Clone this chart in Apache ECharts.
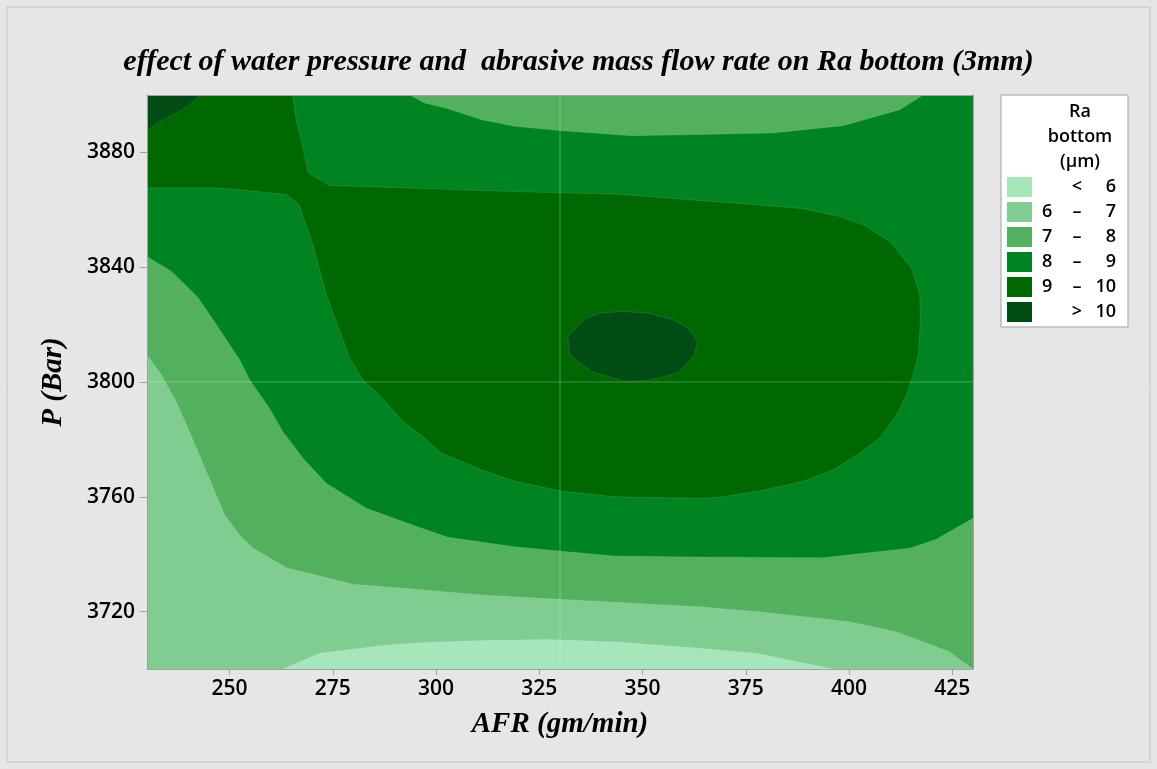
<!DOCTYPE html>
<html><head><meta charset="utf-8">
<script src="https://cdn.jsdelivr.net/npm/echarts@6/dist/echarts.min.js"></script>
<style>html,body{margin:0;padding:0;background:#e6e6e6}#c{width:1157px;height:769px}</style>
</head><body><div id="c"></div>
<script>
// ---- data ----
const AFR_RANGE = [230, 430];
const P_RANGE = [3700, 3900];
const xTicks = [250, 275, 300, 325, 350, 375, 400, 425];
const yTicks = [3720, 3760, 3800, 3840, 3880];
const classLow = [null, 6, 7, 8, 9, 10];
const classHigh = [6, 7, 8, 9, 10, null];
const refAFR = 330;
const refP = 3800;
// contour Ra = 6 (bottom bump)
const contour6 = [[262.9,3700],[271.8,3705.5],[288,3708.4],[297.2,3709.2],[311,3709.9],[327.1,3710.3],[343.2,3709.5],[363.8,3707.2],[377.6,3705.5],[396.1,3700]];
// contour Ra = 7
const contour7 = [[230,3809.5],[233.5,3802.4],[237.1,3793.1],[240.3,3782.7],[244.4,3768.7],[248.8,3753.7],[252.4,3746.7],[255.7,3742.1],[263.8,3735.3],[279.9,3729.5],[297.2,3727.5],[311,3725.8],[329.8,3724.3],[363.8,3721.7],[377.6,3720],[400.1,3716.5],[411.4,3713],[417.9,3709.5],[424.3,3706],[430,3700]];
// contour Ra = 8 (main)
const contour8 = [[230,3843.7],[235.9,3838.6],[242.3,3829.5],[246.8,3820],[252.4,3807.8],[254.9,3800.7],[259.7,3790.8],[262.9,3782.7],[267.8,3773.4],[273.4,3764.7],[283.1,3756],[296,3749.3],[302.9,3745.9],[319,3742.6],[329.8,3741.1],[343.2,3739.4],[363.8,3739],[393.7,3738.8],[403.4,3740.3],[414.7,3742.1],[421.1,3745.2],[430,3752.5]];
// contour Ra = 8 (top pocket below 8)
const contour8Top = [[293.6,3900],[297.2,3897.2],[302.9,3895.2],[311,3891.4],[319,3889.1],[329.8,3887.6],[347.3,3885.8],[363.8,3886.2],[381.6,3886.8],[398.5,3889.3],[412.3,3894.9],[417.9,3900]];
// contour Ra = 9
const contour9 = [[230,3867.6],[246.8,3867.6],[252.4,3867],[263.8,3865.3],[266.8,3861.8],[270.2,3847.8],[273.4,3830.4],[276.7,3817.7],[279.1,3808.4],[282.3,3800.7],[286.3,3795.5],[292,3786.2],[297.2,3780.5],[301.3,3775.2],[311,3769.3],[319,3765.5],[329.8,3762.1],[343.2,3760],[363.8,3759.5],[369.5,3760],[379.2,3762.4],[388.8,3765.3],[396.1,3769.3],[401.8,3774.6],[407.4,3780.4],[411.5,3788.5],[413.9,3795.5],[415.5,3802.4],[416.7,3809.5],[417.3,3821.1],[417.1,3830.4],[415.1,3839.7],[409.8,3849],[403.4,3854.8],[397.7,3857.7],[388.8,3860.4],[377.6,3861.8],[361.4,3863.5],[343.2,3865.5],[329.8,3865.9],[311,3866.7],[297.2,3867.4],[274.2,3868.5],[269,3872.8],[267.8,3881.5],[266.2,3890.8],[265.2,3900]];
// contour Ra = 10 (top-left corner)
const contour10a = [[230,3887.6],[233.1,3890.8],[238.7,3894.9],[243.2,3900]];
// contour Ra = 10 (central island)
const contour10b = [[331.9,3815.9],[336.4,3822.3],[339.6,3824],[344.9,3824.6],[351.3,3824],[357.4,3821.7],[361,3818.8],[363.3,3814.2],[362.6,3809.5],[358.6,3803.1],[351.3,3800.5],[345.7,3800.2],[337.6,3803.7],[332.3,3809.5]];

// ---- styles ----
const classColors = ['#a7e5bb', '#80cc91', '#53b05e', '#008422', '#006800', '#004c15'];
const serif = '"Liberation Serif","Times New Roman",serif';
const sans = '"Open Sans","Noto Sans",sans-serif';

const classNames = classLow.map((lo, i) => {
  const hi = classHigh[i];
  if (lo === null) return '< ' + hi;
  if (hi === null) return '> ' + lo;
  return lo + ' – ' + hi;
});

const [x0, x1] = AFR_RANGE, [y0, y1] = P_RANGE;
const layers = [
  {cls: 0, pts: [[x0, y0], [x1, y0], [x1, y1], [x0, y1]]},
  {cls: 1, pts: [[x0, y0], ...contour6, [x1, y0], [x1, y1], [x0, y1]]},
  {cls: 2, pts: [...contour7, [x1, y1], [x0, y1]]},
  {cls: 3, pts: [...contour8, [x1, y1], [x0, y1]]},
  {cls: 2, pts: contour8Top},
  {cls: 4, pts: [...contour9, [x0, y1]]},
  {cls: 5, pts: [...contour10a, [x0, y1]]},
  {cls: 5, pts: contour10b}
].map((l, i) => Object.assign(l, {order: i}));

const series = classNames.map((name, c) => {
  const mine = layers.filter(l => l.cls === c);
  return {
    type: 'custom', name, coordinateSystem: 'cartesian2d', clip: true, silent: true,
    itemStyle: {color: classColors[c]},
    data: mine.map(l => l.pts[0]),
    renderItem: (params, api) => {
      const l = mine[params.dataIndex];
      return {
        type: 'polygon', z2: l.order,
        shape: {points: l.pts.map(p => api.coord(p))},
        style: {fill: classColors[c], stroke: 'rgba(255,255,255,0.16)', lineWidth: 0.7}
      };
    }
  };
});

series.push({
  type: 'custom', coordinateSystem: 'cartesian2d', silent: true, z: 3,
  data: [[refAFR, refP]],
  renderItem: (params, api) => {
    const a = api.coord([refAFR, y0]), b = api.coord([refAFR, y1]);
    const c = api.coord([x0, refP]), d = api.coord([x1, refP]);
    const st = {stroke: 'rgba(255,255,255,0.28)', lineWidth: 1};
    return {type: 'group', children: [
      {type: 'line', shape: {x1: a[0], y1: a[1], x2: b[0], y2: b[1]}, style: st},
      {type: 'line', shape: {x1: c[0], y1: c[1], x2: d[0], y2: d[1]}, style: st}
    ]};
  }
});

const axisGrey = '#a0a0a0';
const nameStyle = {fontFamily: serif, fontStyle: 'italic', fontWeight: 'bold', fontSize: 29, color: '#000'};
const tickFont = {fontFamily: sans, fontSize: 21, fontWeight: 600, color: '#000'};
const legFont = {fontFamily: sans, fontSize: 18, fontWeight: 600, lineHeight: 20, color: '#000'};
const chart = echarts.init(document.getElementById('c'), null, {renderer: 'canvas'});
chart.setOption({
  backgroundColor: '#e6e6e6',
  animation: false,
  title: {
    text: 'effect of water pressure and  abrasive mass flow rate on Ra bottom (3mm)',
    left: 'center', top: 42,
    textStyle: {fontFamily: serif, fontStyle: 'italic', fontWeight: 'bold', fontSize: 30, color: '#000'}
  },
  grid: {left: 147, right: 184, top: 95, bottom: 100},
  xAxis: [{
    type: 'value', min: x0, max: x1, z: 10,
    name: 'AFR (gm/min)', nameLocation: 'middle', nameGap: 41, nameTextStyle: nameStyle,
    axisLine: {show: true, lineStyle: {color: axisGrey, width: 1}},
    axisTick: {show: true, length: 6, lineStyle: {color: axisGrey}, customValues: xTicks},
    axisLabel: Object.assign({customValues: xTicks, margin: 10, formatter: v => String(v)}, tickFont),
    splitLine: {show: false}
  }, {
    type: 'value', min: x0, max: x1, position: 'top', z: 10,
    axisLine: {show: true, lineStyle: {color: axisGrey, width: 1}},
    axisTick: {show: false}, axisLabel: {show: false}, splitLine: {show: false}
  }],
  yAxis: [{
    type: 'value', min: y0, max: y1, z: 10,
    name: 'P (Bar)', nameLocation: 'middle', nameGap: 79, nameTextStyle: nameStyle,
    axisLine: {show: true, lineStyle: {color: axisGrey, width: 1}},
    axisTick: {show: true, length: 7, lineStyle: {color: axisGrey}, customValues: yTicks},
    axisLabel: Object.assign({customValues: yTicks, margin: 12, formatter: v => String(v)}, tickFont),
    splitLine: {show: false}
  }, {
    type: 'value', min: y0, max: y1, position: 'right', z: 10,
    axisLine: {show: true, lineStyle: {color: axisGrey, width: 1}},
    axisTick: {show: false}, axisLabel: {show: false}, splitLine: {show: false}
  }],
  legend: {
    data: classNames, orient: 'vertical', left: 1001, top: 95,
    padding: [82, 12, 5, 6], itemWidth: 25, itemHeight: 20, itemGap: 5,
    icon: 'rect', selectedMode: false,
    backgroundColor: '#ffffff', borderColor: axisGrey, borderWidth: 1,
    formatter: (name) => {
      const i = classNames.indexOf(name);
      const lo = classLow[i], hi = classHigh[i];
      let a = '', b = '', c = '';
      if (lo === null) { b = '<'; c = hi; }
      else if (hi === null) { b = '>'; c = lo; }
      else { a = lo; b = '–'; c = hi; }
      return '{p| }{a|' + a + '}{b|' + b + '}{c|' + c + '}';
    },
    textStyle: Object.assign({
      rich: {
        p: Object.assign({width: 5}, legFont),
        a: Object.assign({width: 20, align: 'left'}, legFont),
        b: Object.assign({width: 30, align: 'center'}, legFont),
        c: Object.assign({width: 24, align: 'right'}, legFont)
      }
    }, legFont)
  },
  graphic: [
    {type: 'rect', z: 0, silent: true, shape: {x: 7, y: 7, width: 1143, height: 755},
     style: {fill: 'none', stroke: '#c4c4c4', lineWidth: 1}},
    {type: 'text', z: 100, x: 1080, y: 112, silent: true,
     style: {text: 'Ra', align: 'center', verticalAlign: 'middle', font: '600 18px ' + sans, fill: '#000'}},
    {type: 'text', z: 100, x: 1080, y: 137, silent: true,
     style: {text: 'bottom', align: 'center', verticalAlign: 'middle', font: '600 18px ' + sans, fill: '#000'}},
    {type: 'text', z: 100, x: 1080, y: 162, silent: true,
     style: {text: '(µm)', align: 'center', verticalAlign: 'middle', font: '600 18px ' + sans, fill: '#000'}}
  ],
  series
});
</script></body></html>
